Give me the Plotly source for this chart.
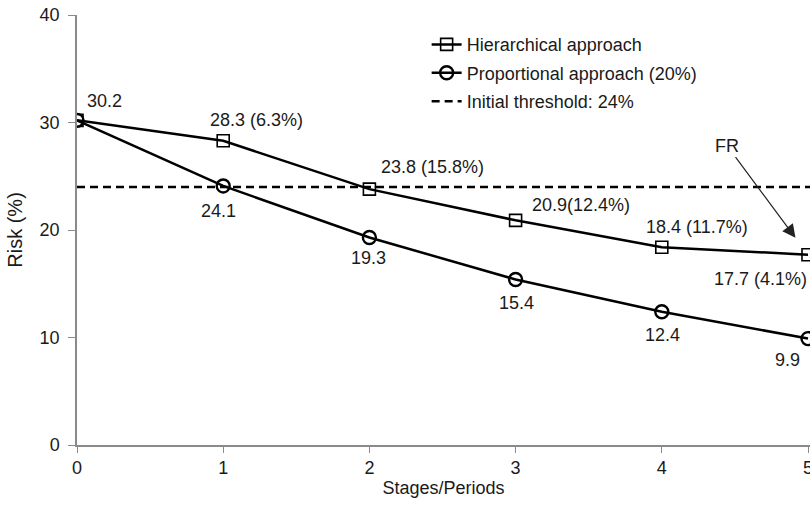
import plotly.graph_objects as go

stages = [0, 1, 2, 3, 4, 5]
hier = [30.2, 28.3, 23.8, 20.9, 18.4, 17.7]
prop = [30.2, 24.1, 19.3, 15.4, 12.4, 9.9]
threshold = 24
hier_labels = ["30.2", "28.3 (6.3%)", "23.8 (15.8%)", "20.9(12.4%)", "18.4 (11.7%)", "17.7 (4.1%)"]
prop_labels = ["", "24.1", "19.3", "15.4", "12.4", "9.9"]

FONT = "Liberation Sans, Arial, sans-serif"
TXT = "#1a1a1a"

fig = go.Figure()
fig.add_trace(go.Scatter(
    x=stages, y=hier, mode="lines+markers", name="Hierarchical approach",
    line=dict(color="black", width=2.5),
    marker=dict(symbol="square-open", size=12, color="black", line=dict(width=1.6)),
    legendgroup="a"))
fig.add_trace(go.Scatter(
    x=stages, y=prop, mode="lines+markers", name="Proportional approach (20%)",
    line=dict(color="black", width=2.5),
    marker=dict(symbol="circle-open", size=13, color="black", line=dict(width=2.4)),
    legendgroup="b"))
fig.add_trace(go.Scatter(
    x=[stages[0], stages[-1] * 1.01], y=[threshold, threshold], mode="lines",
    name="Initial threshold: 24%",
    line=dict(color="black", width=2.5, dash="8px,5px"),
    legendgroup="c"))

# label offsets in pixels (dx, dy up)
hier_off = [(27, 19), (33, 21), (63, 22), (65, 15), (35, 20), (-48, -24)]
prop_off = [(0, 0), (-5, -25), (-1, -20), (1, -24), (1, -23), (-21, -21)]

ann = []
for x, y, t, (dx, dy) in zip(stages, hier, hier_labels, hier_off):
    ann.append(dict(x=x, y=y, text=t, showarrow=False, xshift=dx, yshift=dy,
                    xanchor="center", yanchor="middle",
                    font=dict(family=FONT, size=18, color=TXT)))
for x, y, t, (dx, dy) in zip(stages, prop, prop_labels, prop_off):
    if t:
        ann.append(dict(x=x, y=y, text=t, showarrow=False, xshift=dx, yshift=dy,
                        xanchor="center", yanchor="middle",
                        font=dict(family=FONT, size=18, color=TXT)))
ann.append(dict(x=stages[-1], y=hier[-1], text="FR", showarrow=True,
                ax=-81, ay=-109, standoff=21, arrowhead=2, arrowsize=2.2,
                arrowwidth=1.2, arrowcolor="#222",
                font=dict(family=FONT, size=18, color=TXT)))

fig.update_layout(
    width=810, height=505,
    margin=dict(l=77, r=0, t=15, b=60),
    plot_bgcolor="white", paper_bgcolor="white",
    font=dict(family=FONT, size=18, color=TXT),
    showlegend=True,
    legend=dict(x=0.477, y=0.974, xanchor="left", yanchor="top",
                bgcolor="rgba(0,0,0,0)", font=dict(size=18, color=TXT),
                tracegroupgap=2, itemwidth=30),
    annotations=ann,
    xaxis=dict(range=[0, 5 * 733 / 731], dtick=1, tick0=0, showline=True,
               linecolor="#8a8a8a", linewidth=1.5, ticks="outside", ticklen=6,
               tickcolor="#8a8a8a", showgrid=False, zeroline=False, automargin=False,
               tickfont=dict(size=18), ticklabeloverflow="allow",
               title=dict(text="Stages/Periods", font=dict(size=18), standoff=4)),
    yaxis=dict(range=[0, 40], dtick=10, showline=True, linecolor="#8a8a8a",
               linewidth=1.5, ticks="outside", ticklen=7, tickcolor="#8a8a8a",
               showgrid=False, zeroline=False, automargin=False, tickfont=dict(size=18),
               ticklabelstandoff=5, ticklabeloverflow="allow",
               title=dict(text="Risk (%)", font=dict(size=20), standoff=12)),
)

fig.write_html("out.html", config={"displayModeBar": False},
               post_script="document.body.style.margin='0';document.documentElement.style.margin='0';")
